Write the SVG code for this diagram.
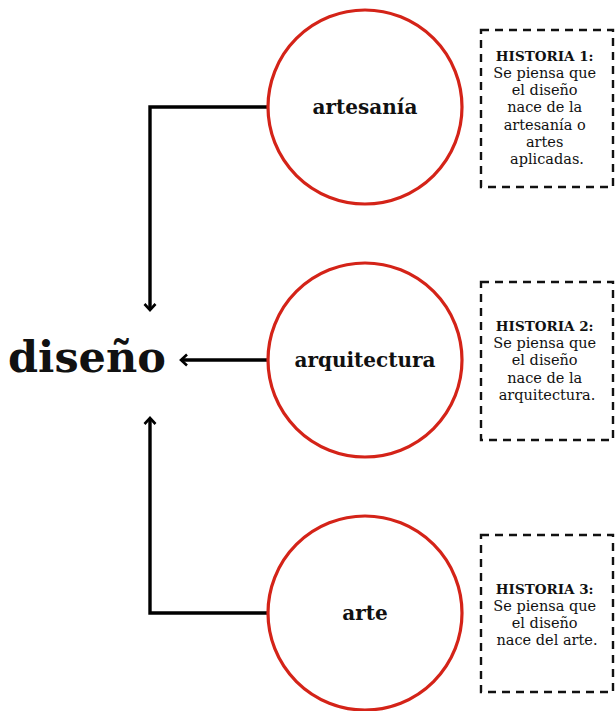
<svg xmlns="http://www.w3.org/2000/svg" width="615" height="711" viewBox="0 0 615 711">
  <defs>
    <marker id="chevron" viewBox="0 0 10 14" refX="8" refY="7" markerWidth="10" markerHeight="14" markerUnits="userSpaceOnUse" orient="auto">
      <path d="M2,1.5 L8,7 L2,12.5" fill="none" stroke="#000" stroke-width="2.6"/>
    </marker>
  </defs>
  <style>
    .circle { fill: #fff; stroke: #d42318; stroke-width: 3.2; }
    .box { fill: #fff; stroke: #111; stroke-width: 2.4; stroke-dasharray: 8 6; }
    .link { fill: none; stroke: #000; stroke-width: 3.4; marker-end: url(#chevron); }
    .label { font-family: "DejaVu Serif", "Liberation Serif", serif; font-weight: bold; font-size: 20px; text-anchor: middle; fill: #111; }
    .title { font-family: "DejaVu Serif", "Liberation Serif", serif; font-weight: bold; font-size: 43px; fill: #111; }
    .note { font-family: "DejaVu Serif", "Liberation Serif", serif; font-size: 14.5px; text-anchor: middle; fill: #111; }
    .note .head { font-weight: bold; font-size: 13.5px; }
  </style>

  <!-- connectors -->
  <g id="connectors">
    <path class="link" d="M268,107 H150 V310"/>
    <path class="link" d="M268,360 H181"/>
    <path class="link" d="M268,613 H150 V418"/>
  </g>

  <!-- central concept -->
  <g id="diseno">
    <text class="title" x="8" y="372">diseño</text>
  </g>

  <!-- source nodes -->
  <g id="artesania">
    <circle class="circle" cx="365" cy="107" r="97"/>
    <text class="label" x="365" y="114">artesanía</text>
  </g>
  <g id="arquitectura">
    <circle class="circle" cx="365" cy="360" r="97"/>
    <text class="label" x="365" y="367">arquitectura</text>
  </g>
  <g id="arte">
    <circle class="circle" cx="365" cy="613" r="97"/>
    <text class="label" x="365" y="620">arte</text>
  </g>

  <!-- explanatory notes -->
  <g id="historia1">
    <rect class="box" x="481" y="30" width="132" height="157"/>
    <text class="note">
      <tspan class="head" x="547" y="61">HISTORIA 1:</tspan>
      <tspan x="547" y="78">Se piensa que</tspan>
      <tspan x="547" y="95">el diseño</tspan>
      <tspan x="547" y="112">nace de la</tspan>
      <tspan x="547" y="129.5">artesanía o</tspan>
      <tspan x="547" y="146.5">artes</tspan>
      <tspan x="547" y="163.5">aplicadas.</tspan>
    </text>
  </g>
  <g id="historia2">
    <rect class="box" x="481" y="282" width="132" height="158"/>
    <text class="note">
      <tspan class="head" x="547" y="331">HISTORIA 2:</tspan>
      <tspan x="547" y="348">Se piensa que</tspan>
      <tspan x="547" y="365">el diseño</tspan>
      <tspan x="547" y="382.5">nace de la</tspan>
      <tspan x="547" y="400">arquitectura.</tspan>
    </text>
  </g>
  <g id="historia3">
    <rect class="box" x="481" y="535" width="132" height="157"/>
    <text class="note">
      <tspan class="head" x="547" y="594">HISTORIA 3:</tspan>
      <tspan x="547" y="611">Se piensa que</tspan>
      <tspan x="547" y="628">el diseño</tspan>
      <tspan x="547" y="645">nace del arte.</tspan>
    </text>
  </g>
</svg>
